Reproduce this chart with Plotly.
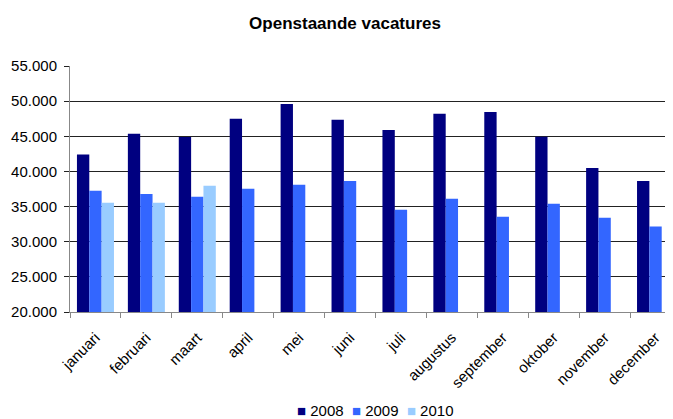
import plotly.graph_objects as go

months = ["januari", "februari", "maart", "april", "mei", "juni", "juli",
          "augustus", "september", "oktober", "november", "december"]
v2008 = [42400, 45350, 44900, 47500, 49600, 47350, 45900, 48200, 48450, 44950, 40500, 38650]
v2009 = [37250, 36800, 36400, 37550, 38100, 38650, 34550, 36100, 33550, 35400, 33400, 32150]
v2010 = [35550, 35550, 37950, None, None, None, None, None, None, None, None, None]
years = ["2008", "2009", "2010"]
colors = ["#000080", "#3366FF", "#99CCFF"]

W, H = 665, 411
L, R, T, B = 62, 0, 58, 107
PW = W - L - R
PH = H - T - B

fig = go.Figure()
for name, vals, c in zip(years, [v2008, v2009, v2010], colors):
    fig.add_trace(go.Bar(x=months, y=vals, name=name, marker_color=c,
                         marker_line_width=0, showlegend=False))

legend_text = "&nbsp;&nbsp;".join(
    f"<span style='color:{c}'>■</span>&nbsp;{n}" for n, c in zip(years, colors))

fig.update_layout(
    width=W, height=H,
    margin=dict(l=L, r=R, t=T, b=B, pad=0),
    paper_bgcolor="white", plot_bgcolor="white",
    separators=",.",
    font=dict(family="Liberation Sans, Arial", size=15, color="black"),
    barmode="group", bargap=0.273, bargroupgap=0,
    title=dict(text="<b>Openstaande vacatures</b>", x=337 / W, xanchor="center",
               y=1 - 15 / H, yanchor="middle", font=dict(size=17)),
    annotations=[dict(text=legend_text, xref="paper", yref="paper",
                      x=(367 - L) / PW, y=(H - B - 402) / PH,
                      xanchor="center", yanchor="middle", showarrow=False,
                      font=dict(size=15))],
    showlegend=False,
)
fig.update_yaxes(range=[20000, 55000], dtick=5000, tickformat=",.0f",
                 showgrid=True, gridcolor="#222222", gridwidth=1,
                 showline=True, linecolor="#888888", linewidth=1,
                 ticks="outside", ticklen=5, tickcolor="#222222",
                 ticklabelstandoff=4,
                 zeroline=False, fixedrange=True)
fig.update_xaxes(range=[-0.5, 11.343], tickangle=-45, ticks="outside",
                 tickson="boundaries", ticklen=5, tickcolor="#888888",
                 showline=True, linecolor="#888888", linewidth=1,
                 ticklabelstandoff=10,
                 showgrid=False)

fig.write_html("out.html")
